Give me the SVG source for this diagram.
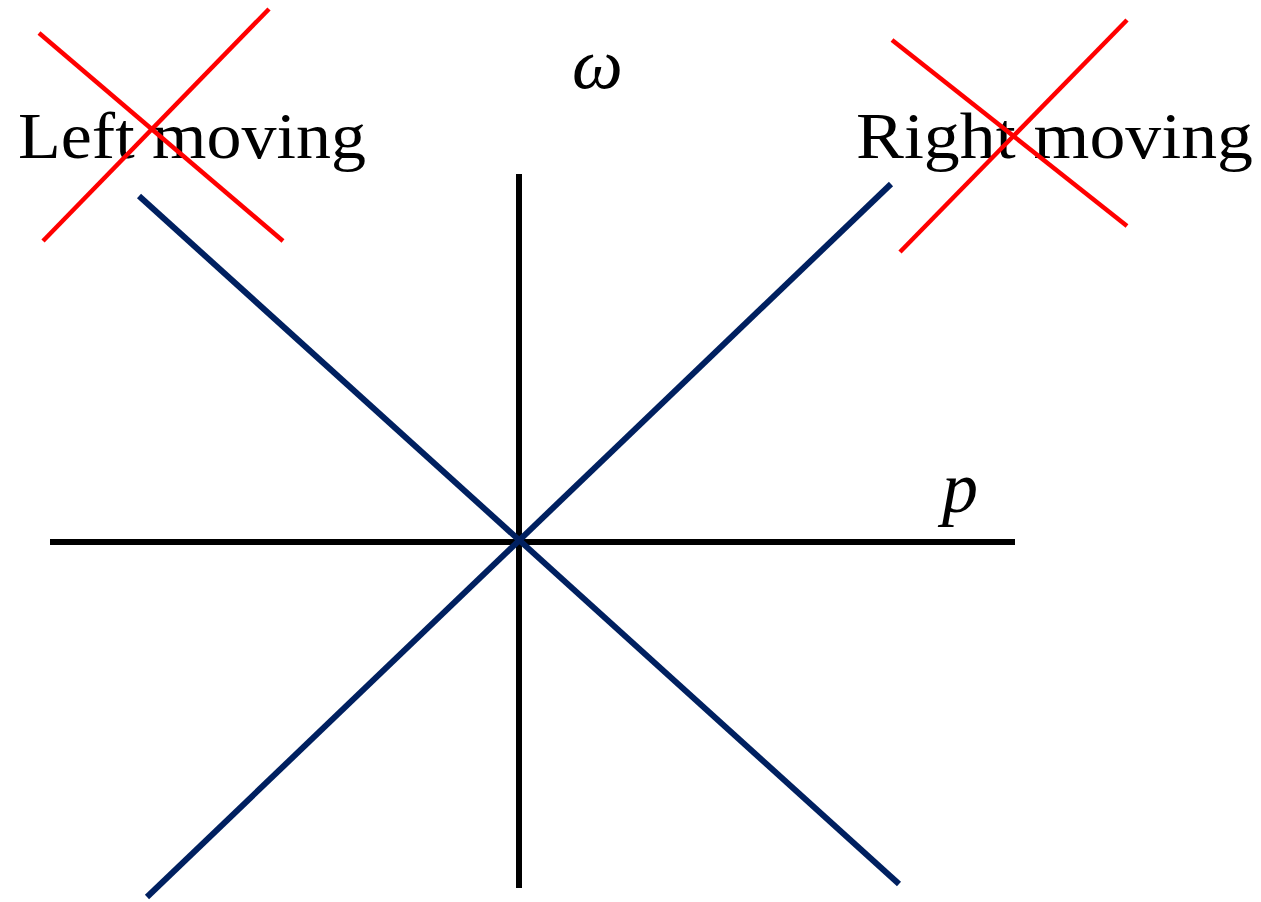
<svg xmlns="http://www.w3.org/2000/svg" width="1261" height="902" viewBox="0 0 1261 902">
<style>
.axis{stroke:#000;stroke-width:6;fill:none}
.disp{stroke:#002060;stroke-width:6;fill:none}
.cross{stroke:#FF0000;stroke-width:4.5;fill:none}
.lbl{font-family:"Liberation Serif",serif;font-size:66px;fill:#000}
.var{font-family:"Liberation Serif",serif;font-style:italic;font-size:72px;fill:#000}
</style>
<rect width="1261" height="902" fill="#fff"/>
<g id="connectors">
<line class="axis" x1="50" y1="542" x2="1015" y2="542"/>
<line class="axis" x1="519" y1="174" x2="519" y2="888"/>
<line class="disp" x1="139" y1="196" x2="899" y2="884"/>
<line class="disp" x1="147" y1="897" x2="891" y2="184"/>
</g>
<g id="left-moving">
<text class="lbl" x="18" y="158" textLength="348" lengthAdjust="spacingAndGlyphs">Left moving</text>
<line class="cross" x1="39" y1="33" x2="283" y2="241"/>
<line class="cross" x1="43" y1="241" x2="269" y2="9"/>
</g>
<g id="right-moving">
<text class="lbl" x="856" y="158" textLength="397" lengthAdjust="spacingAndGlyphs">Right moving</text>
<line class="cross" x1="892" y1="40" x2="1127" y2="226"/>
<line class="cross" x1="900" y1="252" x2="1127" y2="20"/>
</g>
<g id="omega-label">
<text class="var" x="572" y="88">ω</text>
</g>
<g id="p-label">
<text class="var" x="942" y="512">p</text>
</g>
</svg>
